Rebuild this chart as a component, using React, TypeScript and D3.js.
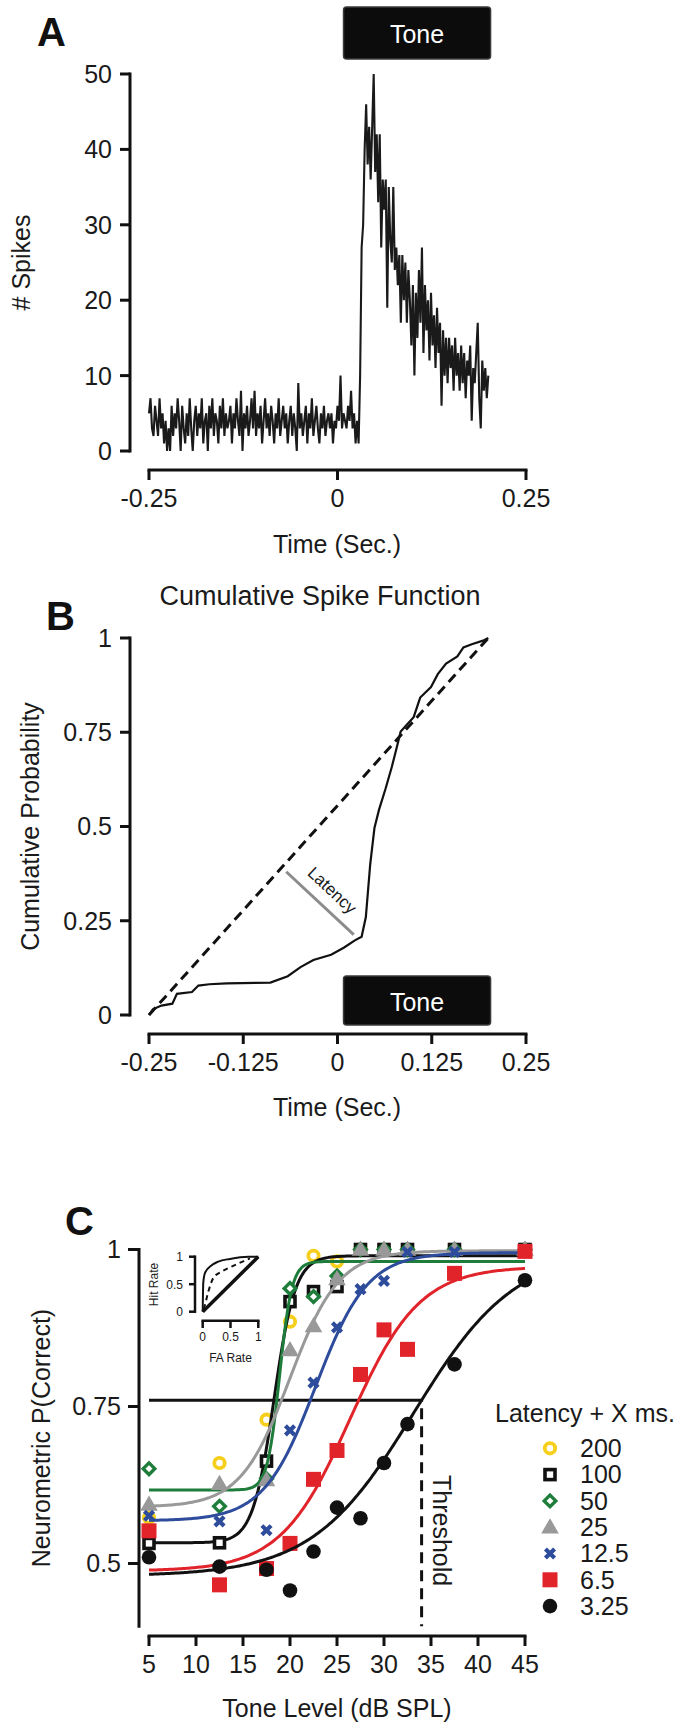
import React from 'react';
import * as d3 from 'd3';

const FONT = '"Liberation Sans", Arial, Helvetica, sans-serif';

// ---------- Panel A: PSTH ----------
const psthStart = -0.25;
const psthBinWidth = 0.002;
const psthCounts = [
  5, 7, 3, 2, 6, 4, 2, 7, 3, 5,
  1, 4, 0, 3, 0, 6, 2, 5, 3, 7,
  4, 0, 6, 3, 1, 5, 2, 7, 3, 0,
  4, 6, 2, 5, 3, 7, 1, 4, 5, 0,
  6, 3, 7, 2, 5, 4, 1, 6, 3, 7,
  2, 5, 3, 4, 6, 1, 5, 3, 7, 4,
  2, 8, 0, 5, 3, 6, 2, 4, 7, 3,
  8, 2, 5, 3, 6, 1, 4, 7, 3, 5,
  2, 6, 4, 1, 5, 3, 7, 2, 4, 6,
  3, 5, 1, 4, 6, 2, 5, 3, 0, 9,
  3, 5, 2, 4, 6, 1, 5, 3, 7, 2,
  4, 6, 3, 1, 5, 3, 6, 2, 4, 5,
  3, 5, 1, 4, 3, 6, 4, 10, 3, 5,
  4, 3, 6, 4, 8, 3, 5, 1, 4, 1,
  10, 27, 30, 40, 46, 38, 43, 36, 43, 50,
  37, 42, 33, 42, 27, 36, 32, 36, 19, 35,
  28, 25, 35, 24, 27, 22, 26, 17, 26, 20,
  25, 17, 24, 20, 14, 22, 10, 21, 15, 24,
  17, 27, 13, 22, 16, 20, 12, 21, 14, 18,
  11, 19, 13, 17, 6, 16, 10, 15, 9, 15,
  11, 14, 8, 15, 10, 13, 8, 14, 9, 13,
  7, 12, 10, 14, 4, 11, 9, 13, 17, 7,
  3, 12, 8, 11, 7, 10,
];
const timeTicksA = [-0.25, 0, 0.25];
const spikeTicks = [0, 10, 20, 30, 40, 50];
const toneOn = 0.008;
const toneOff = 0.203;

// ---------- Panel B: cumulative spike function ----------
const cumTime = [-0.25, -0.245, -0.2335, -0.219, -0.213, -0.193, -0.1845, -0.17, -0.147, -0.089,
  -0.066, -0.049, -0.032, -0.0085, 0.0088, 0.023, 0.032, 0.0376, 0.0434, 0.049,
  0.055, 0.0637, 0.072, 0.078, 0.0838, 0.0925, 0.101, 0.1097, 0.124, 0.133,
  0.144, 0.159, 0.167, 0.179, 0.193, 0.2];
const cumProb = [0, 0.015, 0.025, 0.03, 0.056, 0.061, 0.078, 0.0815, 0.084, 0.086,
  0.103, 0.127, 0.146, 0.16, 0.179, 0.198, 0.2075, 0.26, 0.4, 0.496,
  0.544, 0.6, 0.658, 0.705, 0.752, 0.771, 0.79, 0.842, 0.87, 0.904,
  0.932, 0.951, 0.975, 0.984, 0.993, 1.0];
const uniformTime = [-0.25, 0.2];
const uniformProb = [0, 1];
const latencyTime = [-0.068, 0.0215];
const latencyProb = [0.38, 0.213];
const timeTicksB = [-0.25, -0.125, 0, 0.125, 0.25];
const probTicks = [0, 0.25, 0.5, 0.75, 1];

// ---------- Panel C: neurometric functions ----------
const toneLevels = [5, 12.5, 17.5, 20, 22.5, 25, 27.5, 30, 32.5, 37.5, 45];
const seriesKeys = ['200', '100', '50', '25', '12.5', '6.5', '3.25'];
const pc200 = [0.573, 0.66, 0.729, 0.885, 0.99, 0.981, 1, 1, 1, 1, 1];
const pc100 = [0.532, 0.533, 0.663, 0.917, 0.933, 0.941, 1, 1, 1, 1, 1];
const pc50 = [0.651, 0.591, 0.635, 0.938, 0.925, 0.958, 1, 1, 1, 1, 1];
const pc25 = [0.594, 0.627, 0.633, 0.84, 0.878, 0.953, 1, 1, 1, 1, 1];
const pc12 = [0.576, 0.567, 0.553, 0.712, 0.788, 0.876, 0.937, 0.95, 0.996, 0.996, 1];
const pc6 = [0.552, 0.466, 0.492, 0.532, 0.634, 0.68, 0.801, 0.872, 0.841, 0.962, 0.997];
const pc3 = [0.51, 0.495, 0.49, 0.457, 0.519, 0.589, 0.572, 0.66, 0.722, 0.817, 0.951];
// fitted sigmoid parameters (null = no curve drawn)
const fitBase = [null, 0.533, 0.617, 0.59, 0.568, 0.488, 0.48];
const fitTop = [null, 0.99, 0.981, 0.998, 0.995, 0.973, 1.0];
const fitMid = [null, 18.3, 18.89, 19.97, 22.72, 26.4, 33.17];
const fitSlope = [null, 1.13, 0.654, 2.62, 2.76, 3.69, 5.4];
const levelTicks = [5, 10, 15, 20, 25, 30, 35, 40, 45];
const pcTicks = [0.5, 0.75, 1];
const thresholdLevel = 34;
const thresholdP = 0.76;

// inset ROC
const rocSolidFA = [0, 0.01, 0.04, 0.13, 0.28, 0.49, 0.82, 1.0];
const rocSolidHit = [0, 0.52, 0.7, 0.82, 0.91, 0.96, 1.0, 1.0];
const rocDashFA = [0.02, 0.04, 0.1, 0.19, 0.34, 0.52, 0.76, 0.85];
const rocDashHit = [0.05, 0.12, 0.36, 0.61, 0.73, 0.82, 0.93, 0.97];
const rocTicks = [0, 0.5, 1];

const COL: Record<string, string> = {
  '200': '#F5CF1B',
  '100': '#111111',
  '50': '#1E7D3B',
  '25': '#999999',
  '12.5': '#2E4C9C',
  '6.5': '#E1232A',
  '3.25': '#111111',
};
const seriesData = [pc200, pc100, pc50, pc25, pc12, pc6, pc3];

function Marker({ k, x, y }: { k: string; x: number; y: number }) {
  switch (k) {
    case '200':
      return <circle cx={x} cy={y} r={5.2} fill="white" stroke={COL[k]} strokeWidth={3.8} />;
    case '100':
      return <rect x={x - 5} y={y - 5} width={10} height={10} fill="white" stroke={COL[k]} strokeWidth={3.6} />;
    case '50':
      return <path d={`M${x},${y - 5.8}L${x + 5.8},${y}L${x},${y + 5.8}L${x - 5.8},${y}Z`} fill="white" stroke={COL[k]} strokeWidth={3.4} />;
    case '25':
      return <path d={`M${x},${y - 9}L${x + 8.8},${y + 6.2}L${x - 8.8},${y + 6.2}Z`} fill={COL[k]} />;
    case '12.5':
      return <path d={`M${x - 4.6},${y - 4.6}L${x + 4.6},${y + 4.6}M${x + 4.6},${y - 4.6}L${x - 4.6},${y + 4.6}`} stroke={COL[k]} strokeWidth={4.2} />;
    case '6.5':
      return <rect x={x - 7.5} y={y - 7.5} width={15} height={15} fill={COL[k]} />;
    default:
      return <circle cx={x} cy={y} r={7.3} fill={COL[k]} />;
  }
}

function YAxis({ x, scale, ticks, fmt, fs = 25, tickLen = 10, sw = 3, gap = 8, domain }: any) {
  const [d0, d1] = domain;
  return (
    <g>
      <line x1={x} x2={x} y1={scale(d0) + sw / 2} y2={scale(d1) - sw / 2} stroke="#111" strokeWidth={sw} />
      {ticks.map((t: number) => (
        <g key={t}>
          <line x1={x - tickLen} x2={x} y1={scale(t)} y2={scale(t)} stroke="#111" strokeWidth={sw} />
          <text x={x - tickLen - gap} y={scale(t) + fs * 0.358} textAnchor="end" fontSize={fs} fontFamily={FONT} fill="#1a1a1a">
            {fmt(t)}
          </text>
        </g>
      ))}
    </g>
  );
}

function XAxis({ y, scale, ticks, fmt, fs = 25, tickLen = 10, sw = 3, labelBase = 37, domain }: any) {
  const [d0, d1] = domain;
  return (
    <g>
      <line x1={scale(d0) - sw / 2} x2={scale(d1) + sw / 2} y1={y} y2={y} stroke="#111" strokeWidth={sw} />
      {ticks.map((t: number) => (
        <g key={t}>
          <line x1={scale(t)} x2={scale(t)} y1={y} y2={y + tickLen} stroke="#111" strokeWidth={sw} />
          <text x={scale(t)} y={y + labelBase} textAnchor="middle" fontSize={fs} fontFamily={FONT} fill="#1a1a1a">
            {fmt(t)}
          </text>
        </g>
      ))}
    </g>
  );
}

function ToneBox({ x0, x1, y0, y1 }: any) {
  return (
    <g>
      <rect x={x0} y={y0} width={x1 - x0} height={y1 - y0} rx={3} fill="#0c0c0c" stroke="#3a3a3a" strokeWidth={1.5} />
      <text x={(x0 + x1) / 2} y={(y0 + y1) / 2 + 10} textAnchor="middle" fontSize={25} fontFamily={FONT} fill="white">
        Tone
      </text>
    </g>
  );
}

const fmtTime = (t: number) => (t === 0 ? '0' : String(t));

export default function App() {
  // Panel A scales
  const xA = d3.scaleLinear().domain([-0.25, 0.25]).range([149, 526]);
  const yA = d3.scaleLinear().domain([0, 50]).range([451, 74]);
  const psthLine = d3
    .line<number>()
    .x((_, i) => xA(psthStart + i * psthBinWidth))
    .y((v) => yA(v));

  // Panel B
  const xB = d3.scaleLinear().domain([-0.25, 0.25]).range([149, 526]);
  const yB = d3.scaleLinear().domain([0, 1]).range([1015, 638]);
  const lineB = d3
    .line<number>()
    .x((_, i) => xB(cumTime[i]))
    .y((v) => yB(v));
  const dashB = d3
    .line<number>()
    .x((_, i) => xB(uniformTime[i]))
    .y((v) => yB(v));
  const latX1 = xB(latencyTime[0]);
  const latY1 = yB(latencyProb[0]);
  const latX2 = xB(latencyTime[1]);
  const latY2 = yB(latencyProb[1]);
  const latAngle = (Math.atan2(latY2 - latY1, latX2 - latX1) * 180) / Math.PI;
  const latMx = (latX1 + latX2) / 2;
  const latMy = (latY1 + latY2) / 2;
  const rad = (latAngle * Math.PI) / 180;
  const off = 12;
  const latTx = latMx + Math.sin(rad) * off;
  const latTy = latMy - Math.cos(rad) * off;

  // Panel C
  const xC = d3.scaleLinear().domain([5, 45]).range([149, 525]);
  const yC = d3.scaleLinear().domain([0.5, 1]).range([1563.5, 1249.5]);
  const samples = d3.range(5, 45.001, 0.2);
  const fitLine = d3
    .line<number>()
    .x((l) => xC(l))
    .curve(d3.curveLinear);

  // inset
  const xI = d3.scaleLinear().domain([0, 1]).range([202.7, 258.3]);
  const yI = d3.scaleLinear().domain([0, 1]).range([1311.7, 1256.7]);
  const rocSolid = d3
    .line<number>()
    .x((_, i) => xI(rocSolidFA[i]))
    .y((v) => yI(v))
    .curve(d3.curveMonotoneX);
  const rocDash = d3
    .line<number>()
    .x((_, i) => xI(rocDashFA[i]))
    .y((v) => yI(v))
    .curve(d3.curveMonotoneX);

  const legendX = 550;
  const legendY0 = 1448.3;
  const legendStep = 26.3;

  return (
    <svg
      width={682}
      height={1724}
      style={{ position: 'absolute', left: 0, top: 0, background: 'white' }}
      fontFamily={FONT}
    >
      <rect x={0} y={0} width={682} height={1724} fill="white" />

      {/* ---------------- Panel A ---------------- */}
      <text x={37} y={46} fontSize={40} fontWeight="bold" fontFamily={FONT} fill="#111">A</text>
      <ToneBox x0={xA(toneOn)} x1={xA(toneOff)} y0={7} y1={59} />
      <YAxis x={130} scale={yA} ticks={spikeTicks} fmt={(t: number) => String(t)} domain={[0, 50]} />
      <XAxis y={470} scale={xA} ticks={timeTicksA} fmt={fmtTime} domain={[-0.25, 0.25]} />
      <path d={psthLine(psthCounts) || ''} fill="none" stroke="#1a1a1a" strokeWidth={2.1} strokeLinejoin="miter" />
      <text transform={`translate(30,262.5) rotate(-90)`} textAnchor="middle" fontSize={25} fill="#1a1a1a">
        # Spikes
      </text>
      <text x={337} y={553} textAnchor="middle" fontSize={25} fill="#1a1a1a">
        Time (Sec.)
      </text>

      {/* ---------------- Panel B ---------------- */}
      <text x={46} y={630} fontSize={40} fontWeight="bold" fontFamily={FONT} fill="#111">B</text>
      <text x={320} y={605} textAnchor="middle" fontSize={27} fill="#1a1a1a">
        Cumulative Spike Function
      </text>
      <YAxis
        x={130}
        scale={yB}
        ticks={probTicks}
        fmt={(t: number) => String(t)}
        domain={[0, 1]}
      />
      <XAxis y={1034} scale={xB} ticks={timeTicksB} fmt={fmtTime} domain={[-0.25, 0.25]} />
      <path d={dashB(uniformProb) || ''} fill="none" stroke="#111" strokeWidth={3} strokeDasharray="10 6" />
      <path d={lineB(cumProb) || ''} fill="none" stroke="#111" strokeWidth={2.2} />
      <line x1={latX1} y1={latY1} x2={latX2} y2={latY2} stroke="#8c8c8c" strokeWidth={3} />
      <text
        transform={`translate(${latTx},${latTy}) rotate(${latAngle})`}
        textAnchor="middle"
        fontSize={17}
        fill="#1a1a1a"
      >
        Latency
      </text>
      <ToneBox x0={xB(toneOn)} x1={xB(toneOff)} y0={976} y1={1025} />
      <text transform={`translate(39,826.5) rotate(-90)`} textAnchor="middle" fontSize={25} fill="#1a1a1a">
        Cumulative Probability
      </text>
      <text x={337} y={1116} textAnchor="middle" fontSize={25} fill="#1a1a1a">
        Time (Sec.)
      </text>

      {/* ---------------- Panel C ---------------- */}
      <text x={65} y={1235} fontSize={40} fontWeight="bold" fontFamily={FONT} fill="#111">C</text>
      <YAxis
        x={139}
        scale={yC}
        ticks={pcTicks}
        fmt={(t: number) => String(t)}
        domain={[0.4, 1]}
        tickLen={11}
        gap={7}
      />
      <XAxis y={1636} scale={xC} ticks={levelTicks} fmt={(t: number) => String(t)} domain={[5, 45]} />
      <text transform={`translate(50,1438) rotate(-90)`} textAnchor="middle" fontSize={25} fill="#1a1a1a">
        Neurometric P(Correct)
      </text>
      <text x={337} y={1717} textAnchor="middle" fontSize={25} fill="#1a1a1a">
        Tone Level (dB SPL)
      </text>

      {/* threshold lines */}
      <line x1={xC(5)} x2={xC(thresholdLevel) + 1.5} y1={yC(thresholdP)} y2={yC(thresholdP)} stroke="#111" strokeWidth={3} />
      <line
        x1={xC(thresholdLevel)}
        x2={xC(thresholdLevel)}
        y1={yC(thresholdP) + 8}
        y2={yC(0.4)}
        stroke="#111"
        strokeWidth={3}
        strokeDasharray="11 7"
      />
      <text transform={`translate(${xC(thresholdLevel) + 11},1475) rotate(90)`} fontSize={25} fill="#1a1a1a">
        Threshold
      </text>

      {/* series */}
      {seriesKeys.map((k, si) => {
        const b = fitBase[si];
        let curve: React.ReactNode = null;
        if (b !== null) {
          const a = fitTop[si] as number;
          const m = fitMid[si] as number;
          const s = fitSlope[si] as number;
          const ln = fitLine.y((l: number) => yC((b as number) + (a - (b as number)) / (1 + Math.exp(-(l - m) / s))));
          curve = <path d={ln(samples) || ''} fill="none" stroke={COL[k]} strokeWidth={3} />;
        }
        return (
          <g key={k}>
            {curve}
            {toneLevels.map((l, i) => (
              <Marker key={i} k={k} x={xC(l)} y={yC(seriesData[si][i])} />
            ))}
          </g>
        );
      })}

      {/* inset ROC */}
      <g>
        <line x1={195} x2={195} y1={yI(0) + 1.25} y2={yI(1) - 1.25} stroke="#111" strokeWidth={2.5} />
        {rocTicks.map((t) => (
          <g key={'iy' + t}>
            <line x1={189} x2={195} y1={yI(t)} y2={yI(t)} stroke="#111" strokeWidth={2.5} />
            <text x={183} y={yI(t) + 4.3} textAnchor="end" fontSize={12} fill="#1a1a1a">
              {String(t)}
            </text>
          </g>
        ))}
        <line x1={xI(0) - 1.25} x2={xI(1) + 1.25} y1={1320.7} y2={1320.7} stroke="#111" strokeWidth={2.5} />
        {rocTicks.map((t) => (
          <g key={'ix' + t}>
            <line x1={xI(t)} x2={xI(t)} y1={1320.7} y2={1328} stroke="#111" strokeWidth={2.5} />
            <text x={xI(t)} y={1341} textAnchor="middle" fontSize={12} fill="#1a1a1a">
              {String(t)}
            </text>
          </g>
        ))}
        <text transform={`translate(158,1284.5) rotate(-90)`} textAnchor="middle" fontSize={12} fill="#1a1a1a">
          Hit Rate
        </text>
        <text x={230.5} y={1362} textAnchor="middle" fontSize={12} fill="#1a1a1a">
          FA Rate
        </text>
        <line x1={xI(0)} y1={yI(0)} x2={xI(1)} y2={yI(1)} stroke="#111" strokeWidth={3.5} />
        <path d={rocSolid(rocSolidHit) || ''} fill="none" stroke="#111" strokeWidth={2} />
        <path d={rocDash(rocDashHit) || ''} fill="none" stroke="#111" strokeWidth={2} strokeDasharray="5 4" />
      </g>

      {/* legend */}
      <text x={495} y={1421.7} fontSize={25} fill="#1a1a1a">
        Latency + X ms.
      </text>
      {seriesKeys.map((k, i) => (
        <g key={'lg' + k}>
          <Marker k={k} x={legendX} y={legendY0 + i * legendStep} />
          <text x={580} y={legendY0 + i * legendStep + 8.7} fontSize={25} fill="#1a1a1a">
            {k}
          </text>
        </g>
      ))}
    </svg>
  );
}
